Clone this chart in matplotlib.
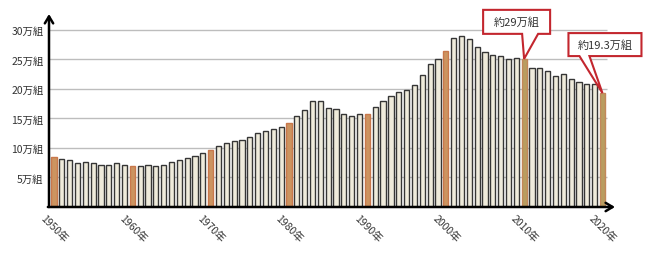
import matplotlib
matplotlib.use("Agg")
import matplotlib.pyplot as plt
from matplotlib.patches import Polygon
import numpy as np

plt.rcParams['font.family'] = ['Noto Sans CJK JP', 'DejaVu Sans']

# 離婚件数 (万組), 1950-2020
years = np.arange(1950, 2021)
counts = [8.4, 8.2, 7.9, 7.5, 7.7, 7.5, 7.2, 7.2, 7.4, 7.2,
          6.9, 6.9, 7.1, 7.0, 7.2, 7.7, 7.9, 8.3, 8.7, 9.1,
          9.6, 10.4, 10.8, 11.2, 11.4, 11.9, 12.5, 12.9, 13.2, 13.5,
          14.2, 15.4, 16.4, 17.9, 17.9, 16.7, 16.6, 15.8, 15.4, 15.8,
          15.8, 16.9, 17.9, 18.8, 19.5, 19.9, 20.7, 22.3, 24.3, 25.1,
          26.4, 28.6, 29.0, 28.4, 27.1, 26.2, 25.7, 25.5, 25.1, 25.3,
          25.1, 23.6, 23.5, 23.1, 22.2, 22.6, 21.7, 21.2, 20.8, 20.9,
          19.3]
highlight_years = [1950, 1960, 1970, 1980, 1990, 2000, 2010, 2020]
ytick_vals = [5, 10, 15, 20, 25, 30]
ytick_labels = ['5万組', '10万組', '15万組', '20万組', '25万組', '30万組']
xtick_years = [1950, 1960, 1970, 1980, 1990, 2000, 2010, 2020]
xtick_labels = ['1950年', '1960年', '1970年', '1980年', '1990年', '2000年', '2010年', '2020年']

fig = plt.figure(figsize=(6.5, 2.55), dpi=100)
ax = fig.add_axes([49/650, 47/255, 566/650, 193/255])

faces = []
edges = []
for y in years:
    if y in highlight_years:
        if y >= 2010:
            faces.append('#b99d60')
            edges.append('#c3875a')
        else:
            faces.append('#cc9460')
            edges.append('#c9784c')
    else:
        faces.append('#efebdb')
        edges.append('#363636')

ax.bar(years, counts, width=0.66, color=faces, edgecolor=edges, linewidth=1.0, zorder=3)

ax.set_xlim(1949.36, 2021.6)
ax.set_ylim(0, 32.7)

ax.hlines(ytick_vals, 1949.36, 2020.6, color='#bdbdbd', linewidth=1.0, zorder=1)

for s in ax.spines.values():
    s.set_visible(False)
ax.set_yticks(ytick_vals)
ax.set_yticklabels(ytick_labels, fontsize=7.5, color='#333333')
ax.set_xticks(xtick_years)
ax.set_xticklabels(xtick_labels, fontsize=7.5, color='#333333', rotation=-45, ha='center')
ax.tick_params(axis='both', length=0, pad=4)

arrow = dict(arrowstyle='->,head_length=0.5,head_width=0.3', lw=1.8, color='black', shrinkA=0, shrinkB=0)
ax.annotate('', xy=(0, 1), xytext=(0, 0), xycoords='axes fraction', arrowprops=arrow, zorder=5)
ax.annotate('', xy=(1, 0), xytext=(-0.002, 0), xycoords='axes fraction', arrowprops=arrow, zorder=5)


def callout(year, value, text, box, base):
    # box = (left, right, bottom, top) offsets in pixels from the tip; base = pointer base x offsets
    tx, ty = ax.transData.transform((year, value))
    L, R, B, T = tx + box[0], tx + box[1], ty + box[2], ty + box[3]
    p1, p2 = tx + base[0], tx + base[1]
    pts = [(L, T), (R, T), (R, B), (p2, B), (tx, ty), (p1, B), (L, B)]
    pts = fig.transFigure.inverted().transform(pts)
    poly = Polygon(pts, closed=True, facecolor='white', edgecolor='#c3262e', linewidth=1.5,
                   joinstyle='miter', transform=fig.transFigure, zorder=10)
    fig.add_artist(poly)
    cx, cy = fig.transFigure.inverted().transform(((L + R) / 2, (B + T) / 2))
    fig.text(cx, cy, text, ha='center', va='center', fontsize=8, color='#333333', zorder=11)


callout(2010, counts[years.tolist().index(2010)], '約29万組', (-41, 26, 25, 49), (-2, 14))
callout(2020, counts[-1], '約19.3万組', (-34, 39, 37, 60), (-23, -13))

fig.savefig('out.png', dpi=100)
